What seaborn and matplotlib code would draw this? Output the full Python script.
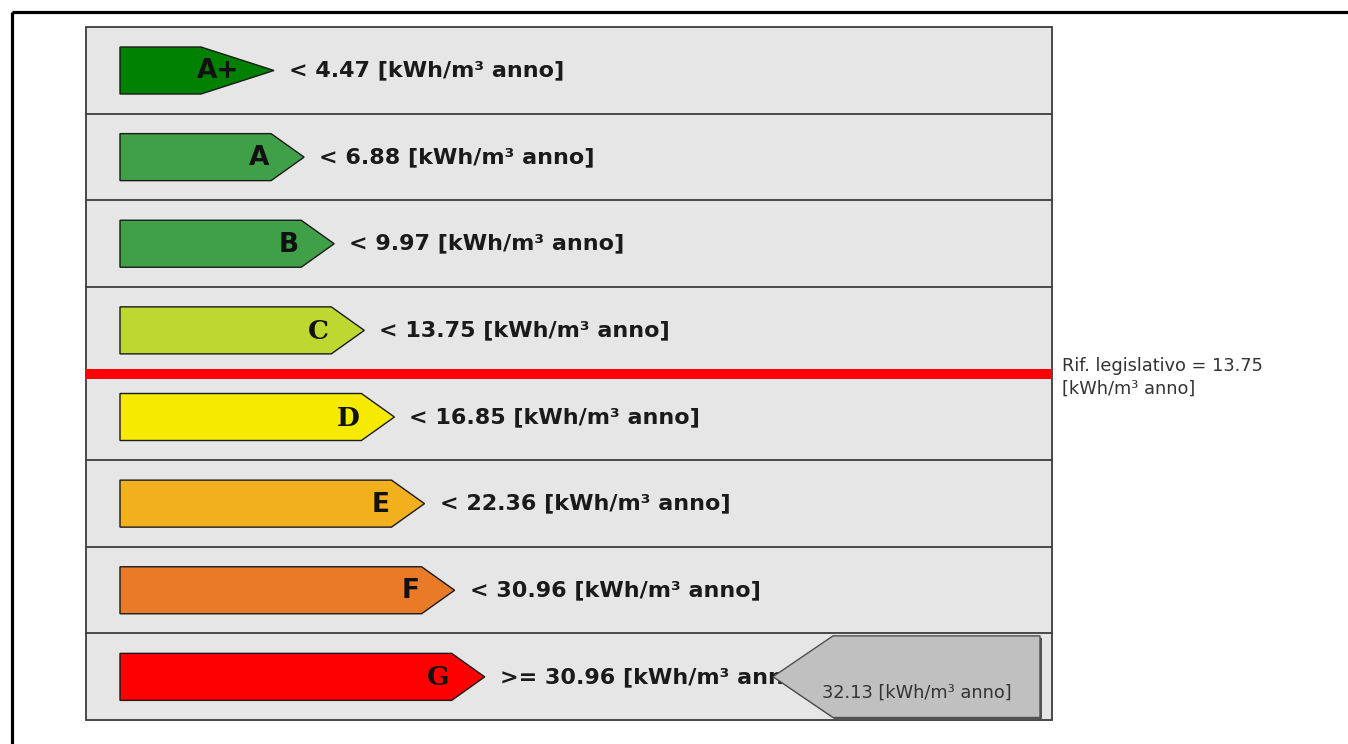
import matplotlib
matplotlib.use("Agg")
import matplotlib.pyplot as plt
from matplotlib.patches import Polygon, Rectangle
import seaborn as sns

# ---- data ----
classes = ["A+", "A", "B", "C", "D", "E", "F", "G"]
limits = [4.47, 6.88, 9.97, 13.75, 16.85, 22.36, 30.96, 30.96]
operators = ["<", "<", "<", "<", "<", "<", "<", ">="]
colors = ["#008000", "#40a048", "#40a048", "#bfd831", "#f5ea00", "#f2b01e", "#e87a28", "#ff0000"]
unit = "[kWh/m³ anno]"
reference_value = 13.75
building_value = 32.13

sns.set_theme(style="white")
plt.rcParams["font.family"] = ["DejaVu Sans"]

W, H = 1348, 744
fig = plt.figure(figsize=(W / 100, H / 100), dpi=100)
ax = fig.add_axes([0, 0, 1, 1])
ax.set_xlim(0, W)
ax.set_ylim(H, 0)
ax.axis("off")

# outer frame (top and left visible)
ax.plot([12, W], [12, 12], color="black", lw=2.3, solid_capstyle="butt", zorder=1)
ax.plot([12, 12], [12, H], color="black", lw=2.3, solid_capstyle="butt", zorder=1)

# panel
px0, px1, py0, py1 = 86, 1052, 27, 720
n = len(classes)
rh = (py1 - py0) / n
ax.add_patch(Rectangle((px0, py0), px1 - px0, py1 - py0, fc="#e6e6e6",
                       ec="#3c3c3c", lw=1.3, zorder=2))
for i in range(1, n):
    y = py0 + i * rh
    ax.plot([px0, px1], [y, y], color="#3c3c3c", lw=1.3, zorder=3)

# arrows
point_len = [73] + [33] * (n - 1)
serif = [False, False, False, True, True, False, False, True]
x_left = 120
for i, (cls, lim, op, col) in enumerate(zip(classes, limits, operators, colors)):
    top = py0 + i * rh + 20
    bot = top + 47
    mid = (top + bot) / 2
    tip = 274 + i * 30.1
    body = tip - point_len[i]
    poly = Polygon([(x_left, top), (body, top), (tip, mid), (body, bot), (x_left, bot)],
                   closed=True, fc=col, ec="#1a1a1a", lw=1.0, zorder=4)
    ax.add_patch(poly)
    fam = "DejaVu Serif" if serif[i] else "DejaVu Sans"
    ax.text(tip - 35, mid + 1, cls, ha="right", va="center", fontsize=19,
            fontweight="bold", family=fam, color="#111111", zorder=5)
    ax.text(tip + 15, mid, f"{op} {lim:.2f} {unit}", ha="left", va="center",
            fontsize=16, fontweight="bold", color="#1a1a1a", zorder=5)

# reference line at boundary of the class whose limit equals the reference
ref_idx = limits.index(reference_value)
yref = py0 + (ref_idx + 1) * rh
ax.plot([px0, px1], [yref, yref], color="#ff0000", lw=7.2, solid_capstyle="butt", zorder=6)
ax.text(1062, yref + 4, f"Rif. legislativo = {reference_value:.2f}\n{unit}", ha="left",
        va="center", fontsize=12.8, color="#333333", linespacing=1.3, zorder=6)

# building value arrow (pointing left), in the class row it falls into
b_idx = n - 1
for i in range(n - 1):
    if building_value < limits[i]:
        b_idx = i
        break
gt = py0 + b_idx * rh + 2.5
gb = py0 + (b_idx + 1) * rh - 2.5
gm = (gt + gb) / 2
gr, gtip, gbody = 1040, 773, 833
shadow = Polygon([(gr + 2, gt + 2), (gbody + 2, gt + 2), (gtip + 2, gm + 2),
                  (gbody + 2, gb + 2), (gr + 2, gb + 2)], closed=True,
                 fc="#555555", ec="none", zorder=7)
ax.add_patch(shadow)
ax.add_patch(Polygon([(gr, gt), (gbody, gt), (gtip, gm), (gbody, gb), (gr, gb)],
                     closed=True, fc="#c0c0c0", ec="#505050", lw=1.0, zorder=8))
ax.text(822, gm + 16, f"{building_value:.2f} {unit}", ha="left", va="center",
        fontsize=12.8, color="#333333", zorder=9)

fig.savefig("out.png", dpi=100)
